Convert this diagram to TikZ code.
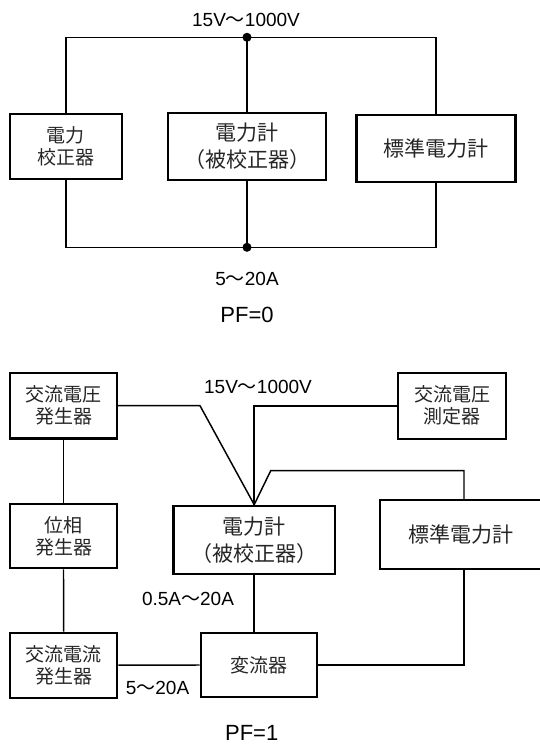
\documentclass[tikz,border=0pt]{standalone}
\usepackage{fontspec}
\setmainfont{Liberation Sans}
\newfontfamily\jp{Noto Sans CJK JP}

\begin{document}
\begin{tikzpicture}[x=0.75pt, y=-0.75pt,
  every node/.style={font=\fontsize{14.25}{16.5}\selectfont},
  box/.style={draw, line width=1.6pt, inner sep=0pt, align=center, text=black!85},
  boxsize/.style 2 args={minimum width=#1*0.75pt, minimum height=#2*0.75pt},
  small/.style={font=\jp\fontsize{14.25}{16.5}\selectfont},
  big/.style={font=\jp\fontsize{15.75}{20.5}\selectfont},
  wire/.style={line width=1.1pt},
  pf/.style={font=\fontsize{16.5}{19}\selectfont}]
  \useasboundingbox (0,0) rectangle (539,745);

  % PF=0 circuit
  \node[box,small,boxsize={112}{65}] (cal) at (66,146.5) {電力\\校正器};
  \node[box,big,boxsize={158}{67.6}] (dut) at (247,146.5) {電力計\\（被校正器）};
  \node[box,big,boxsize={159}{66.7}] (std) at (436,148.3) {標準電力計};

  \coordinate (vtop) at (247,37.3);
  \coordinate (vbot) at (247,247.3);
  \draw[wire] (cal.north) |- (vtop) -| (std.north);
  \draw[wire] (cal.south) |- (vbot) -| (std.south);
  \draw[wire] (vtop) -- (dut.north);
  \draw[wire] (dut.south) -- (vbot);
  \foreach \P in {vtop,vbot}
    \fill (\P) circle (3.4pt);

  \node (vrange) at (246,20) {15V{\jp ～}1000V};
  \node (irange) at (247,279.3) {5{\jp ～}20A};
  \node[pf] (pf0) at (247,315) {PF=0};

  % PF=1 circuit
  \node[box,small,boxsize={107}{65.5}] (acv) at (63.5,405.7) {交流電圧\\発生器};
  \node[box,small,boxsize={107.4}{65.7}] (vm) at (452,405.8) {交流電圧\\測定器};
  \node[box,small,boxsize={107}{64.3}] (phase) at (63.5,536.2) {位相\\発生器};
  \node[box,big,boxsize={161.5}{68.6}] (dut2) at (254.2,540) {電力計\\（被校正器）};
  \node[box,big,boxsize={161}{68.7}] (std2) at (460.5,534.3) {標準電力計};
  \node[box,small,boxsize={107.3}{65}] (aci) at (63.6,665.2) {交流電流\\発生器};
  \node[box,small,boxsize={116.6}{64.6}] (ct) at (259,665) {変流器};

  % bends of the wiring
  \coordinate (bend1) at (200,405.7);
  \coordinate (bend2) at (270.7,470.7);
  \coordinate (stdx) at (464,470.7);

  \draw[wire] (acv.east) -- (bend1) -- (dut2.north);
  \draw[wire] (vm.west) -| (dut2.north);
  \draw[wire] (dut2.north) -- (bend2) -- (stdx) -- (stdx |- std2.north);
  \draw[wire] (acv.south) -- (phase.north);
  \draw[wire] (phase.south) -- (aci.north);
  \draw[wire] (aci.east) -- (ct.west);
  \draw[wire] (dut2.south) -- (dut2.south |- ct.north);
  \draw[wire] (ct.east) -| (stdx |- std2.south);

  \node (vrange2) at (258,387) {15V{\jp ～}1000V};
  \node (irange2) at (188,599) {0.5A{\jp ～}20A};
  \node (irange3) at (157.5,688) {5{\jp ～}20A};
  \node[pf] (pf1) at (251.7,733) {PF=1};

\end{tikzpicture}
\end{document}
